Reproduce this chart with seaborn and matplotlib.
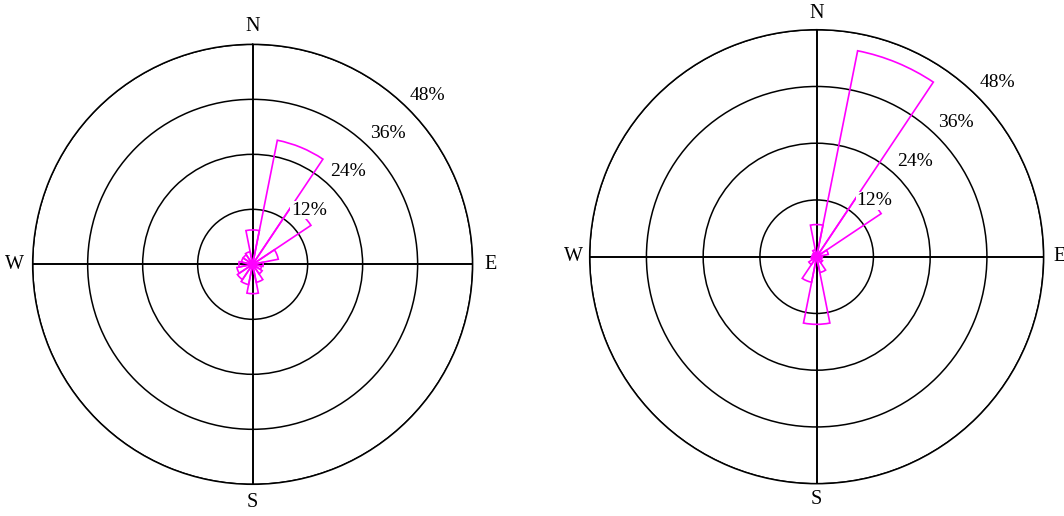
import numpy as np
import matplotlib
matplotlib.use("Agg")
import matplotlib.pyplot as plt
import seaborn as sns

# Wind direction sectors (16-point compass) and frequency (%) for two sites
directions = ["N", "NNE", "NE", "ENE", "E", "ESE", "SE", "SSE",
              "S", "SSW", "SW", "WSW", "W", "WNW", "NW", "NNW"]
freq_left = [7.5, 27.6, 15.3, 5.7, 2.3, 2.0, 2.5, 4.0,
             6.4, 4.5, 4.0, 3.5, 3.0, 2.5, 2.5, 2.8]
freq_right = [6.8, 44.4, 16.4, 2.5, 1.2, 1.0, 1.5, 3.4,
              14.3, 5.5, 2.0, 1.2, 1.0, 0.8, 1.0, 1.5]

ring_values = [12, 24, 36, 48]
ring_labels = ["12%", "24%", "36%", "48%"]
cardinals = ["N", "E", "S", "W"]

sns.set_theme(style="white")
plt.rcParams["font.family"] = ["Liberation Serif", "DejaVu Serif"]

fig = plt.figure(figsize=(10.64, 5.16), dpi=100)
fig.patch.set_facecolor("white")

panels = [
    (freq_left, [0.0307, 0.0614, 0.4135, 0.8527], 52.0),
    (freq_right, [0.5542, 0.0626, 0.4267, 0.8798], 51.4),
]

theta = np.deg2rad(np.arange(len(directions)) * 360.0 / len(directions))
width = 2 * np.pi / len(directions)

for freqs, rect, card_r in panels:
    ax = fig.add_axes(rect, projection="polar")
    ax.set_facecolor("white")
    ax.set_theta_zero_location("N")
    ax.set_theta_direction(-1)
    ax.set_ylim(0, ring_values[-1])

    # rings and the N-S / E-W cross
    ax.set_rgrids(ring_values, labels=[""] * len(ring_values))
    ax.set_thetagrids([0, 90, 180, 270], labels=[""] * 4)
    ax.yaxis.grid(True, color="black", linewidth=1.1)
    ax.xaxis.grid(True, color="black", linewidth=1.4)
    ax.spines["polar"].set_color("black")
    ax.spines["polar"].set_linewidth(1.1)

    # wind-rose petals
    ax.bar(theta, freqs, width=width, align="center", fill=False,
           edgecolor="#FF00FF", linewidth=1.2, zorder=3)

    # ring labels along the NE diagonal
    for rv, rl in zip(ring_values, ring_labels):
        ax.text(np.deg2rad(46), rv + 5.0, rl, ha="center", va="center",
                fontsize=14, color="black",
                bbox=dict(facecolor="white", edgecolor="none", pad=0.3))

    # compass letters
    for ang, lab in zip([0, 90, 180, 270], cardinals):
        ax.text(np.deg2rad(ang), card_r, lab, ha="center", va="center",
                fontsize=14.5, color="black", clip_on=False)

fig.savefig("out.png", dpi=100, facecolor="white")
